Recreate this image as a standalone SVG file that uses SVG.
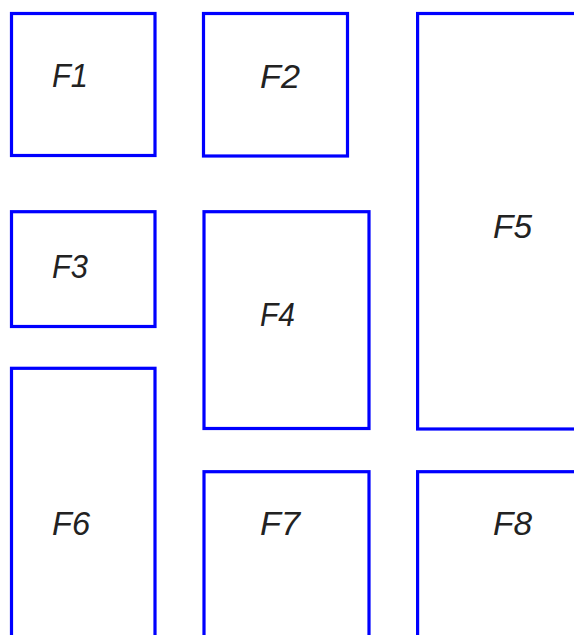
<svg xmlns="http://www.w3.org/2000/svg" width="574" height="635" viewBox="0 0 574 635">
<style>
.box{fill:#fff;stroke:#0000ff;stroke-width:3.2}
.lbl{font-family:"Liberation Sans",Arial,sans-serif;font-style:italic;font-size:34px;fill:#222}
</style>
<rect width="574" height="635" fill="#fff"/>
<g id="F1"><rect class="box" x="11.5" y="13.5" width="143.5" height="142"/><text class="lbl" x="52" y="87" textLength="36" lengthAdjust="spacingAndGlyphs">F1</text></g>
<g id="F2"><rect class="box" x="203.5" y="13.5" width="144" height="142.5"/><text class="lbl" x="260" y="88" textLength="40" lengthAdjust="spacingAndGlyphs">F2</text></g>
<g id="F5"><rect class="box" x="417.6" y="13.5" width="170" height="415.5"/><text class="lbl" x="493" y="238" textLength="39" lengthAdjust="spacingAndGlyphs">F5</text></g>
<g id="F3"><rect class="box" x="11.5" y="211.7" width="143.5" height="114.8"/><text class="lbl" x="52" y="278" textLength="36" lengthAdjust="spacingAndGlyphs">F3</text></g>
<g id="F4"><rect class="box" x="204" y="211.7" width="165" height="216.8"/><text class="lbl" x="260" y="326" textLength="35" lengthAdjust="spacingAndGlyphs">F4</text></g>
<g id="F6"><rect class="box" x="11.5" y="368.3" width="143.5" height="290"/><text class="lbl" x="52" y="535" textLength="38" lengthAdjust="spacingAndGlyphs">F6</text></g>
<g id="F7"><rect class="box" x="204" y="471.7" width="165" height="190"/><text class="lbl" x="260" y="535" textLength="40" lengthAdjust="spacingAndGlyphs">F7</text></g>
<g id="F8"><rect class="box" x="417.6" y="471.7" width="170" height="190"/><text class="lbl" x="493" y="535" textLength="39" lengthAdjust="spacingAndGlyphs">F8</text></g>
<g id="connectors"></g>
</svg>
